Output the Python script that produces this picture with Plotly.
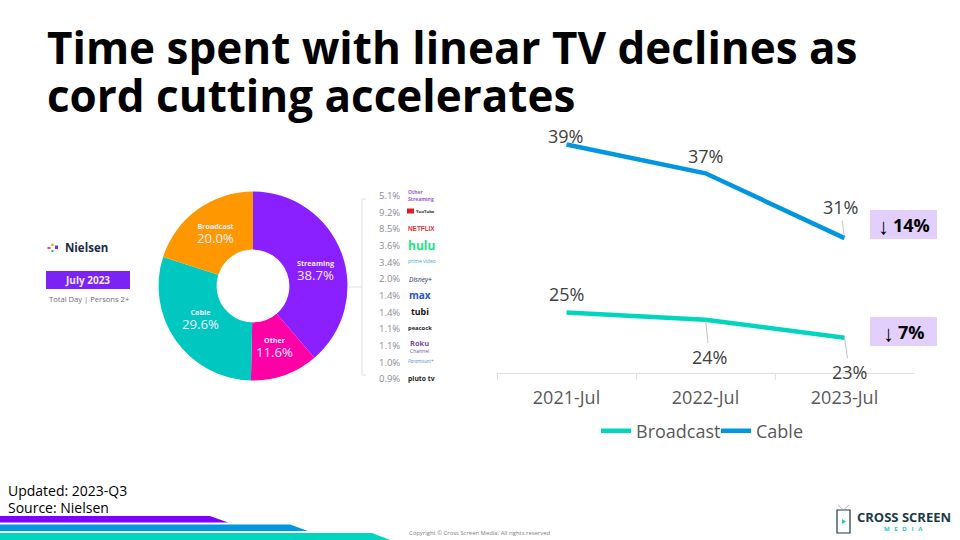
import plotly.graph_objects as go

# ---- data ----
periods = ["2021-Jul", "2022-Jul", "2023-Jul"]
broadcast = [25.0, 24.4, 22.9]
cable = [39.0, 36.6, 31.2]
changes = ["14%", "7%"]

share_labels = ["Streaming", "Other", "Cable", "Broadcast"]
share_values = [38.7, 11.6, 29.6, 20.0]
share_colors = ["#8A1FFF", "#FF00A6", "#00C8C0", "#FF9800"]

stream_pcts = ["5.1%", "9.2%", "8.5%", "3.6%", "3.4%", "2.0%", "1.4%", "1.4%", "1.1%", "1.1%", "1.0%", "0.9%"]

W, H = 960, 540
FONT = "Open Sans"
GREY = "#404040"
fig = go.Figure()


def px(x):
    return x / W


def py(y):
    return 1 - y / H


def text(x, y, s, size, color="#000", anchor="left", family=FONT):
    fig.add_annotation(xref="paper", yref="paper", x=px(x), y=py(y), text=s, showarrow=False,
                       xanchor=anchor, yanchor="middle", align=anchor,
                       font=dict(size=size, color=color, family=family), borderpad=0)


def rect(x0, y0, x1, y1, color):
    fig.add_shape(type="rect", xref="paper", yref="paper", x0=px(x0), x1=px(x1), y0=py(y0), y1=py(y1),
                  fillcolor=color, line_width=0, layer="below")


def seg(x0, y0, x1, y1, color, width=1):
    fig.add_shape(type="line", xref="paper", yref="paper", x0=px(x0), x1=px(x1), y0=py(y0), y1=py(y1),
                  line=dict(color=color, width=width), layer="below")


def poly(points, color):
    d = "M " + " L ".join(f"{px(a):.5f} {py(b):.5f}" for a, b in points) + " Z"
    fig.add_shape(type="path", xref="paper", yref="paper", path=d, fillcolor=color, line_width=0, layer="below")


def big(s, size):
    return f'<span style="font-size:{size}px">{s}</span>'


# ---- line chart ----
fig.add_trace(go.Scatter(x=periods, y=broadcast, name="Broadcast", mode="lines",
                         line=dict(color="#00D6BE", width=4.5), hoverinfo="skip"))
fig.add_trace(go.Scatter(x=periods, y=cable, name="Cable", mode="lines",
                         line=dict(color="#0096E0", width=4.5), hoverinfo="skip"))

label_offsets = {
    "Broadcast": [(0, -19, False), (4, 37, True), (5, 34, True)],
    "Cable": [(-1, -9, False), (0, -17, False), (-4, -31, True)],
}
for name, vals in (("Broadcast", broadcast), ("Cable", cable)):
    for p, v, (dx, dy, lead) in zip(periods, vals, label_offsets[name]):
        common = dict(x=p, y=v, xref="x", yref="y", text=f"{round(v)}%",
                      font=dict(size=18, color=GREY, family=FONT))
        if lead:
            fig.add_annotation(**common, showarrow=True, arrowhead=0, arrowwidth=0.7, arrowcolor="#A6A6A6",
                               ax=dx, ay=dy, standoff=0)
        else:
            fig.add_annotation(**common, showarrow=False, xshift=dx, yshift=-dy)

# change badges
rect(870, 210, 937, 239, "#E2CFFC")
rect(870, 317, 937, 346, "#E2CFFC")
text(883, 226, "↓", 22, anchor="center", family="Liberation Sans")
text(892, 225, f"<b>{changes[0]}</b>", 18)
text(888, 333, "↓", 22, anchor="center", family="Liberation Sans")
text(897, 332, f"<b>{changes[1]}</b>", 18)

# ---- donut ----
cx, cy, r = 253, 286, 94.5
fig.add_trace(go.Pie(labels=share_labels, values=share_values, sort=False, direction="clockwise", rotation=0,
                     hole=0.385, marker=dict(colors=share_colors, line=dict(width=0)), textinfo="none",
                     hoverinfo="skip", showlegend=False,
                     domain=dict(x=[px(cx - r), px(cx + r)], y=[py(cy + r), py(cy - r)])))
donut_pos = [(315, 271), (274, 348), (200, 320), (215, 234)]
for (lx, ly), n, v in zip(donut_pos, share_labels, share_values):
    fig.add_annotation(xref="paper", yref="paper", x=px(lx), y=py(ly), showarrow=False, align="center",
                       xanchor="center", yanchor="middle",
                       text=f"<b>{big(n, 7.2)}</b><br>{big(f'{v:.1f}%', 13.2)}",
                       font=dict(size=10.5, color="#F6ECFF", family=FONT))

# ---- streaming breakdown ----
seg(349, 287, 362, 287, "#DDE0E6", 1)
seg(362, 199, 362, 375, "#DDE0E6", 1)
seg(362, 199, 366, 199, "#DDE0E6", 1)
seg(362, 375, 366, 375, "#DDE0E6", 1)
row_y = [195.5 + i * 16.65 for i in range(len(stream_pcts))]
for y, s in zip(row_y, stream_pcts):
    text(400.5, y, s, 9.5, "#8A8D96", "right")
text(407, 195, "<b>Other<br>Streaming</b>", 5, "#9A5FD0")
rect(407, 208.5, 414, 213.5, "#E01B22")
text(415, 211, "<b>YouTube</b>", 4.2, "#222")
text(407, 228.5, "<b>NETFLIX</b>", 6.4, "#D8353A", family="Liberation Sans")
text(407, 245, "<b>hulu</b>", 12, "#1CE783")
text(407, 260.5, "prime video", 5, "#3DA5D9")
text(408, 279.5, "<i>Disney+</i>", 6.6, "#1B2A55")
text(408, 295, "<b>max</b>", 10, "#2A55D5")
text(410, 311.5, "<b>tubi</b>", 8.8, "#111")
text(407, 328, "<b>peacock</b>", 5.8, "#222")
text(409, 345.5, f"<b>{big('Roku', 7.5)}</b><br>{big('Channel', 5)}", 5.5, "#7A4FA8")
text(407, 361, "<i>Paramount+</i>", 4.6, "#5B8DE0")
text(407, 378, "<b>pluto tv</b>", 6.8, "#222")

# ---- Nielsen block ----
for x0, y0, x1, y1, c in [(47.5, 247, 50.5, 249, "#F0455A"), (51.5, 243.5, 53.5, 246, "#F59A23"),
                          (51.5, 250, 53.5, 252, "#19B5C8"), (55, 245.5, 58, 249, "#7B2BF5")]:
    rect(x0, y0, x1, y1, c)
text(64, 247, "<b>Nielsen</b>", 11.5, "#1B2A4A")
rect(46, 271, 130, 289, "#7B22F5")
text(87, 280, "<b>July 2023</b>", 10, "#F2E8FF", "center")
text(48, 299, "Total Day | Persons 2+", 7.6, "#6A6F7A")

# ---- title and footer ----
text(46, 47, "<b>Time spent with linear TV declines as</b>", 44)
text(46, 95, "<b>cord cutting accelerates</b>", 44)
text(7, 498.5, f"{big('Updated: 2023-Q3', 14)}<br>{big('Source: Nielsen', 14)}", 13)
text(408, 532.5, "Copyright © Cross Screen Media. All rights reserved", 5.9, "#808080")

poly([(0, 516), (210, 516), (228, 522.5), (0, 522.5)], "#8000FF")
poly([(0, 524.5), (290, 524.5), (308, 531), (0, 531)], "#0096E0")
poly([(0, 533), (372, 533), (390, 540), (0, 540)], "#00D6BE")

# ---- Cross Screen logo ----
fig.add_shape(type="rect", xref="paper", yref="paper", x0=px(837), x1=px(850), y0=py(533), y1=py(510),
              line=dict(color="#1B3A4B", width=1.2), fillcolor="rgba(0,0,0,0)", layer="below")
seg(838, 505, 843.5, 510, "#9AA5AC", 0.8)
seg(849, 505, 843.5, 510, "#9AA5AC", 0.8)
poly([(842, 519), (846, 521.5), (842, 524)], "#19C8C8")
text(855.5, 517, "<b>CROSS SCREEN</b>", 13, "#1B3A4B")
text(903, 529, "<b>M\u00a0\u00a0\u00a0E\u00a0\u00a0\u00a0D\u00a0\u00a0\u00a0I\u00a0\u00a0\u00a0A</b>", 6, "#19C8C8", "center")

fig.update_layout(
    width=W, height=H, margin=dict(l=0, r=0, t=0, b=0), paper_bgcolor="white", plot_bgcolor="white",
    font=dict(family=FONT, color=GREY),
    xaxis=dict(domain=[px(497), px(914)], type="category", categoryorder="array", categoryarray=periods,
               range=[-0.5, 2.5], showgrid=False, zeroline=False, showline=True, linecolor="#E0E0E0", linewidth=1,
               ticks="outside", tickson="boundaries", ticklen=6, tickcolor="#E0E0E0", ticklabelstandoff=9,
               tickfont=dict(size=18, color="#595959", family=FONT)),
    yaxis=dict(domain=[py(372.5), py(130)], range=[20, 40.21], visible=False),
    legend=dict(orientation="h", x=px(596), xanchor="left", y=py(431), yanchor="middle",
                font=dict(size=18, color="#595959", family=FONT), itemwidth=30, bgcolor="rgba(0,0,0,0)",
                traceorder="normal", entrywidth=75, entrywidthmode="pixels"),
)

fig.write_html("out.html", post_script="document.body.style.margin='0';", config={"displayModeBar": False})
